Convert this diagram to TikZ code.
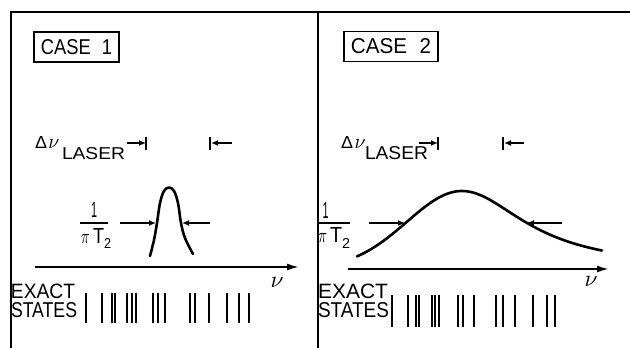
\documentclass[tikz,border=0pt]{standalone}
\usepackage{fontspec}
\setmainfont{Liberation Sans}
\usepackage{graphicx}
\usetikzlibrary{arrows.meta}
\tikzset{
  frameline/.style={line width=1.8pt},
  curve/.style={line width=2.6pt, line cap=round, line join=round},
  axisarrow/.style={line width=1.8pt, -{Latex[length=12pt,width=7pt]}},
  halfarrow/.style={line width=1.6pt, -{Latex[length=7pt,width=6pt]}},
  tickbar/.style={line width=1.6pt},
  statebar/.style={line width=2.4pt},
  fracline/.style={line width=1.4pt},
  lbl/.style={inner sep=0pt, outer sep=0pt},
  casebox/.style={draw, line width=1.4pt, inner xsep=7pt, inner ysep=7.5pt},
}
\newcommand{\fitto}[3]{\resizebox{#1}{#2}{#3}}
\begin{document}
\begin{tikzpicture}[x=1pt,y=-1pt]
\useasboundingbox (0,0) rectangle (630,348);
% frame
\coordinate (fbl) at (11,348);
\coordinate (ftl) at (11,12);
\coordinate (ftr) at (630,12);
\coordinate (fmt) at (318,12);
\coordinate (fmb) at (318,348);
\draw[frameline] (fbl) -- (ftl) -- (ftr);
\draw[frameline] (fmt) -- (fmb);

% case boxes
\node[casebox] (case1) at (76.5,47) {\fitto{71pt}{15pt}{CASE\hspace{0.6em}1}};
\node[casebox] (case2) at (391,46.5) {\fitto{80pt}{15pt}{CASE\hspace{0.6em}2}};

% Delta nu laser, left
\node[lbl, anchor=base west] (dnu1) at (35,148.5) {\fitto{12pt}{12pt}{Δ}\hspace{1.5pt}\fitto{11pt}{9pt}{$\nu$}};
\node[lbl, anchor=south west] (laser1) at (62,160) {\fitto{63pt}{12pt}{LASER}};
\coordinate (la1s) at (127,143);
\coordinate (la1e) at (146,143);
\coordinate (lb1t) at (146,136.5);
\coordinate (lb1b) at (146,150);
\draw[halfarrow] (la1s) -- (la1e);
\draw[tickbar] (lb1t) -- (lb1b);
\coordinate (ra1s) at (232,143);
\coordinate (ra1e) at (211,143);
\coordinate (rb1t) at (210,136.5);
\coordinate (rb1b) at (210,150);
\draw[halfarrow] (ra1s) -- (ra1e);
\draw[tickbar] (rb1t) -- (rb1b);

% Delta nu laser, right
\node[lbl, anchor=base west] (dnu2) at (341,148) {\fitto{12pt}{12pt}{Δ}\hspace{1.5pt}\fitto{11pt}{9pt}{$\nu$}};
\node[lbl, anchor=south west] (laser2) at (365,160) {\fitto{63pt}{13pt}{LASER}};
\coordinate (la2s) at (419,143);
\coordinate (la2e) at (438,143);
\coordinate (lb2t) at (438,136.5);
\coordinate (lb2b) at (438,150);
\draw[halfarrow] (la2s) -- (la2e);
\draw[tickbar] (lb2t) -- (lb2b);
\coordinate (ra2s) at (524,143);
\coordinate (ra2e) at (504,143);
\coordinate (rb2t) at (503,136.5);
\coordinate (rb2b) at (503,150);
\draw[halfarrow] (ra2s) -- (ra2e);
\draw[tickbar] (rb2t) -- (rb2b);

% fractions
\node[lbl, anchor=base] (one1) at (94,217) {\fitto{6pt}{15pt}{1}};
\coordinate (fl1a) at (80,223);
\coordinate (fl1b) at (108,223);
\draw[fracline] (fl1a) -- (fl1b);
\node[lbl, anchor=base west] (den1) at (81,243) {\fitto{9pt}{9pt}{$\pi$}\hspace{3pt}\fitto{11pt}{15pt}{T}\raisebox{-5pt}{\fitto{7pt}{10pt}{2}}};

\node[lbl, anchor=base] (one2) at (325.5,218) {\fitto{6pt}{16pt}{1}};
\coordinate (fl2a) at (318,223);
\coordinate (fl2b) at (350,223);
\draw[fracline] (fl2a) -- (fl2b);
\node[lbl, anchor=base west] (den2) at (318,242) {\fitto{9pt}{9pt}{$\pi$}\hspace{3pt}\fitto{12pt}{15pt}{T}\raisebox{-6pt}{\fitto{8pt}{10pt}{2}}};

% curves
\draw[curve] plot[smooth, tension=0.6] coordinates {(150,256) (154,240) (157,223) (160,203) (164,191) (169,187.5) (174,191) (178,203) (181,223) (185,238) (193,254)};
\draw[curve] plot[domain=357:462, samples=40] (\x, {269 - 78*exp(-((\x-462)^2)/6050)})
  -- plot[domain=462:602, samples=40] (\x, {269 - 78/(1+((\x-462)/78)^2)});

% half-width arrows
\coordinate (h1a) at (120,223); \coordinate (h1b) at (156,223);
\coordinate (h1c) at (210,223); \coordinate (h1d) at (182,223);
\draw[halfarrow] (h1a) -- (h1b);
\draw[halfarrow] (h1c) -- (h1d);
\coordinate (h2a) at (369,223); \coordinate (h2b) at (405,223);
\coordinate (h2c) at (562,223); \coordinate (h2d) at (527,223);
\draw[halfarrow] (h2a) -- (h2b);
\draw[halfarrow] (h2c) -- (h2d);

% axes
\coordinate (ax1s) at (35,267); \coordinate (ax1e) at (299,267);
\draw[axisarrow] (ax1s) -- (ax1e);
\node[lbl] (nu1) at (277,282) {\fitto{13pt}{10pt}{$\nu$}};
\coordinate (ax2s) at (348,269); \coordinate (ax2e) at (609,269);
\draw[axisarrow] (ax2s) -- (ax2e);
\node[lbl] (nu2) at (591,281) {\fitto{13pt}{10pt}{$\nu$}};

% exact states
\node[lbl, anchor=south west] (ex1) at (11,298.5) {\fitto{64pt}{14.5pt}{EXACT}};
\node[lbl, anchor=south west] (st1) at (11,318) {\fitto{66pt}{15pt}{STATES}};
\node[lbl, anchor=south west] (ex2) at (318,298.5) {\fitto{70pt}{14.5pt}{EXACT}};
\node[lbl, anchor=south west] (st2) at (318,318) {\fitto{71pt}{15pt}{STATES}};

\foreach \x in {86,102,112,115,127,132,136,153,158,165,190,195,209,227,239,249}
  \draw[statebar] (\x,293) -- (\x,323);
\foreach \x in {392,408,416,419,432,435,439,458,463,474,496,503,515,533,547,555}
  \draw[statebar] (\x,295) -- (\x,327);
\end{tikzpicture}
\end{document}
